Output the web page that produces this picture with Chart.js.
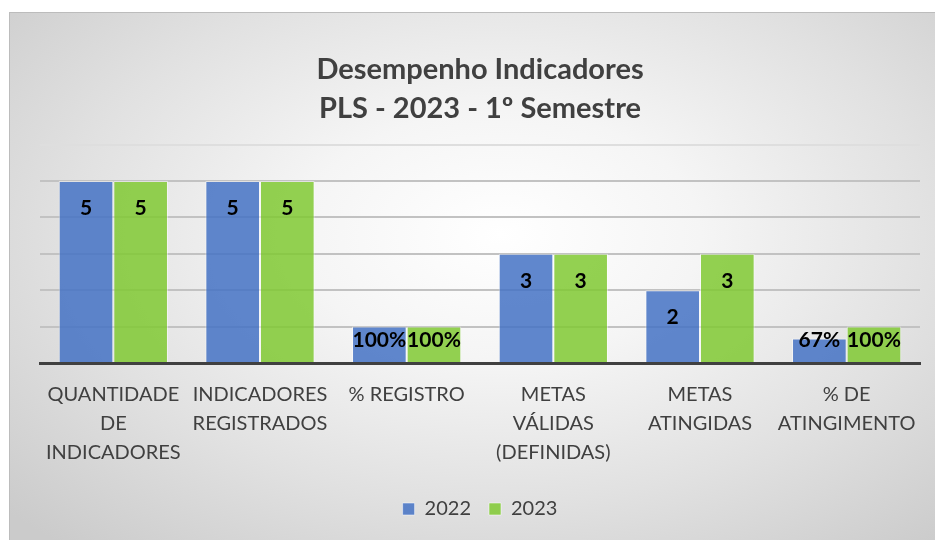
<!DOCTYPE html>
<html>
<head>
<meta charset="utf-8">
<script src="https://cdn.jsdelivr.net/npm/chart.js@4/dist/chart.umd.min.js"></script>
<style>
    html, body { margin: 0; padding: 0; background: #ffffff; }
    #frame {
        position: absolute;
        left: 9px;
        top: 12px;
        width: 926px;
        height: 528px;
        border-top: 1px solid #bcbcbc;
        border-left: 1px solid #bcbcbc;
        background: radial-gradient(ellipse 72% 78% at 53% 42%, #ffffff 0%, #f5f5f5 30%, #e1e1e1 65%, #cbcbcb 100%);
    }
    #chart { position: absolute; left: 0; top: 0; }
</style>
</head>
<body>
<div id="frame">
    <canvas id="chart" width="926" height="528"></canvas>
</div>
<script>
// Categorias e valores
const categories = [
    ['QUANTIDADE', 'DE', 'INDICADORES'],
    ['INDICADORES', 'REGISTRADOS'],
    ['% REGISTRO'],
    ['METAS', 'VÁLIDAS', '(DEFINIDAS)'],
    ['METAS', 'ATINGIDAS'],
    ['% DE', 'ATINGIMENTO']
];
const isPercent = [false, false, true, false, false, true];
const values2022 = [5, 5, 1, 3, 2, 0.67];
const values2023 = [5, 5, 1, 3, 3, 1];
const yTicks = [0, 1, 2, 3, 4, 5, 6];

const textColor = '#404040';

function formatValue(v, i) {
    return isPercent[i] ? Math.round(v * 100) + '%' : String(v);
}

// Rótulos de dados dentro das barras
const barLabels = {
    id: 'barLabels',
    afterDatasetsDraw(chart) {
        const ctx = chart.ctx;
        ctx.save();
        ctx.font = 'bold 21px Lato';
        ctx.fillStyle = '#000000';
        ctx.textAlign = 'center';
        ctx.textBaseline = 'middle';
        chart.data.datasets.forEach((ds, di) => {
            chart.getDatasetMeta(di).data.forEach((bar, i) => {
                const y = Math.min(bar.y + 27, bar.base - 22);
                ctx.fillText(formatValue(ds.data[i], i), bar.x, y);
            });
        });
        ctx.restore();
    }
};

new Chart(document.getElementById('chart').getContext('2d'), {
    type: 'bar',
    data: {
        labels: categories,
        datasets: [{
            label: '2022',
            data: values2022,
            backgroundColor: 'rgba(68, 114, 196, 0.85)',
            borderColor: 'rgba(255, 255, 255, 0.5)',
            borderWidth: 1
        }, {
            label: '2023',
            data: values2023,
            backgroundColor: 'rgba(128, 201, 51, 0.85)',
            borderColor: 'rgba(255, 255, 255, 0.5)',
            borderWidth: 1
        }]
    },
    options: {
        responsive: false,
        animation: false,
        layout: {
            padding: { left: 30, right: 16, top: 0, bottom: 12 }
        },
        datasets: {
            bar: {
                barPercentage: 1,
                categoryPercentage: 0.745
            }
        },
        scales: {
            x: {
                grid: { display: false },
                border: { display: true, color: '#404040', width: 3 },
                ticks: {
                    color: textColor,
                    font: { family: 'Lato', size: 20, lineHeight: 1.45 },
                    autoSkip: false,
                    maxRotation: 0,
                    padding: 9
                },
                afterFit(scale) { scale.height = 118; }
            },
            y: {
                min: yTicks[0],
                max: yTicks[yTicks.length - 1],
                afterBuildTicks(scale) {
                    scale.ticks = yTicks.map(v => ({ value: v }));
                },
                ticks: { display: false },
                border: { display: false },
                grid: {
                    drawTicks: false,
                    lineWidth: 2,
                    color: ctx => ctx.tick.value === 6 ? '#dedede' : (ctx.tick.value === 0 ? 'rgba(0,0,0,0)' : '#c2c2c2')
                },
                afterFit(scale) { scale.width = 0; }
            }
        },
        plugins: {
            title: {
                display: true,
                text: ['Desempenho Indicadores', 'PLS - 2023 - 1º Semestre'],
                color: textColor,
                font: { family: 'Lato', size: 29, weight: 'bold', lineHeight: 1.32 },
                padding: { top: 38, bottom: 17 }
            },
            legend: {
                position: 'bottom',
                labels: {
                    color: textColor,
                    font: { family: 'Lato', size: 20 },
                    boxWidth: 12,
                    boxHeight: 12,
                    padding: 18
                }
            },
            tooltip: { enabled: false }
        }
    },
    plugins: [barLabels]
});
</script>
</body>
</html>
